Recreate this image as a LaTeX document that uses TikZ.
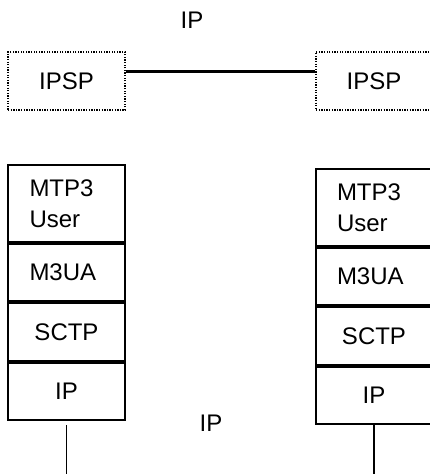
\documentclass[tikz,border=0pt]{standalone}
\usepackage{fontspec}
\setmainfont{Liberation Sans}
\usetikzlibrary{positioning,calc}
\tikzset{
	lbl/.style = {font=\fontsize{24}{31}\selectfont, inner sep=0pt},
	ipsp/.style = {draw, line width=1.3pt, dash pattern=on 1.3pt off 1.3pt,
		minimum width=117pt, minimum height=58pt, lbl},
	layer/.style = {draw, line width=2pt, minimum width=117pt, lbl},
	leftlayer/.style = {layer, text width=74pt, align=left},
	midlayer/.style = {layer, text width=74pt, align=center},
	link/.style = {line width=2.5pt},
	wire/.style = {line width=1.6pt}
}
\begin{document}
\begin{tikzpicture}[x=1pt, y=-1pt, node distance=0pt]
	\useasboundingbox (0,0) rectangle (430,474);
	% IPSP peers
	\node[lbl] (toplbl) at (192,20) {IP};
	\node[ipsp] (lipsp) at (66.5,81) {IPSP};
	\node[ipsp, minimum width=116pt] (ripsp) at (374,81) {IPSP};
	\coordinate (lstart) at ($(lipsp.north east)!0.34!(lipsp.south east)$);
	\draw[link] (lstart) -- (lstart -| ripsp.west);
	% left stack
	\node[leftlayer, minimum height=77pt, anchor=north] (lusr) at (66.5,164) {MTP3\\User};
	\node[leftlayer, minimum height=57pt, below=of lusr] (lm3ua) {M3UA};
	\node[midlayer, minimum height=58pt, below=of lm3ua] (lsctp) {SCTP};
	\node[midlayer, minimum height=57pt, below=of lsctp] (lip) {IP};
	% right stack
	\node[leftlayer, minimum width=116pt, minimum height=77pt, anchor=north] (rusr) at (374,168) {MTP3\\User};
	\node[leftlayer, minimum width=116pt, minimum height=57pt, below=of rusr] (rm3ua) {M3UA};
	\node[midlayer, minimum width=116pt, minimum height=58pt, below=of rm3ua] (rsctp) {SCTP};
	\node[midlayer, minimum width=116pt, minimum height=57pt, below=of rsctp] (rip) {IP};
	% IP network
	\node[lbl] (botlbl) at (211,423) {IP};
	\coordinate (lend) at (lip.south |- 0,474);
	\coordinate (rend) at (rip.south |- 0,474);
	\draw[wire] ([yshift=-4pt]lip.south) -- (lend);
	\draw[wire] (rip.south) -- (rend);
\end{tikzpicture}
\end{document}
